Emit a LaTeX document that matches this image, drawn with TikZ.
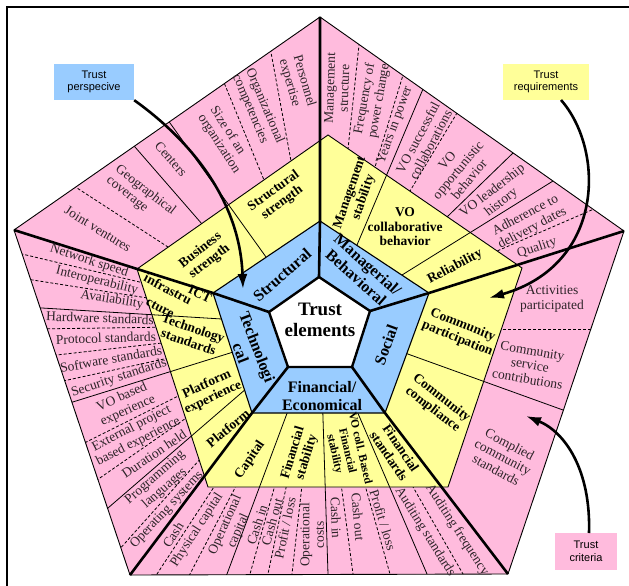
\documentclass[tikz,border=0pt]{standalone}
\usepackage{fontspec}
\setmainfont{Liberation Serif}
\newfontfamily\arialfont{Liberation Sans}
\usetikzlibrary{calc,arrows.meta}
\definecolor{pinkc}{RGB}{255,187,221}
\definecolor{yellowc}{RGB}{255,255,153}
\definecolor{bluec}{RGB}{153,204,255}
\definecolor{pinktxt}{RGB}{45,35,40}
\begin{document}
\begin{tikzpicture}[x=1pt,y=-1pt,
  pk/.style={font=\fontsize{13.5}{14.5}\selectfont, text=pinktxt, align=center, inner sep=0pt},
  pkl/.style={pk, align=left},
  yl/.style={font=\fontsize{13.5}{14.5}\selectfont\bfseries, align=center, inner sep=0pt},
  bl/.style={font=\fontsize{16}{17.5}\selectfont\bfseries, align=center, inner sep=0pt},
  sep/.style={line width=0.8pt},
  sepd/.style={line width=0.8pt, dash pattern=on 3pt off 2pt},
  spoke/.style={line width=2.6pt, line join=round},
  outl/.style={line width=0.9pt, line join=miter},
  callout/.style={font=\arialfont\fontsize{11}{12.5}\selectfont, align=center, minimum width=80pt, minimum height=36pt, inner sep=0pt},
  arr/.style={line width=2.6pt, -{Latex[length=15pt,width=10pt]}},
]
\useasboundingbox (0,0) rectangle (629,586);
\fill[white] (0,0) rectangle (629,586);
% pentagon corners
\coordinate (OT) at (320,17);  \coordinate (OL) at (14,230);  \coordinate (OBL) at (130,575);
\coordinate (OBR) at (508,574); \coordinate (OR) at (624,231);
\coordinate (YT) at (328,135); \coordinate (YL) at (137,269); \coordinate (YBL) at (208,487);
\coordinate (YBR) at (448,487); \coordinate (YR) at (522,268);
\coordinate (BT) at (320,221); \coordinate (BL) at (213,293); \coordinate (BBL) at (252,413);
\coordinate (BBR) at (385,413); \coordinate (BR) at (429,293);
\coordinate (WT) at (319,277); \coordinate (WL) at (269,312); \coordinate (WBL) at (288,367);
\coordinate (WBR) at (352,367); \coordinate (WR) at (370,311);
\coordinate (C) at (320,325);

% pink band
\fill[pinkc] (OT)--(OR)--(OBR)--(OBL)--(OL)--cycle;
\begin{scope}
\clip (OT)--(OR)--(OBR)--(OBL)--(OL)--cycle;
% sector A (pink only)
\draw[sepd] ($(77,188)!-0.5!(168,247)$) -- ($(77,188)!1.4!(168,247)$);
\draw[sep]  ($(135,147)!-0.5!(202,224)$) -- ($(135,147)!1.4!(202,224)$);
\draw[sepd] ($(225,85)!-0.5!(264,180)$) -- ($(225,85)!1.4!(264,180)$);
\draw[sepd] ($(270,47)!-0.5!(291,161)$) -- ($(270,47)!1.4!(291,161)$);
% sector B (pink only)
\draw[sepd] ($(359,45)!-0.5!(348,149)$) -- ($(359,45)!1.4!(348,149)$);
\draw[sepd] ($(403,75)!-0.5!(375,167)$) -- ($(403,75)!1.4!(375,167)$);
\draw[sepd] ($(457,113)!-0.5!(410,191)$) -- ($(457,113)!1.4!(410,191)$);
\draw[sep]  ($(513,153)!-0.5!(447,217)$) -- ($(513,153)!1.4!(447,217)$);
\draw[sepd] ($(594,209)!-0.5!(497,251)$) -- ($(594,209)!1.4!(497,251)$);
% sector C (pink only)
\draw[sepd] ($(591,329)!-0.5!(501,329)$) -- ($(591,329)!1.4!(501,329)$);
% sector D (pink only)
\foreach \xx in {157,190,250,268,292,353,390,463}
  \draw[sepd] ($(C)!70pt!(\xx,574)$) -- ($(C)!1.5!(\xx,574)$);
% sector E (pink only)
\foreach \ang in {166.6,171.1,180.8,186.5,192.3,206.6,214.8,228.2}
  \draw[sepd] ($(C)+(-\ang:70)$) -- ($(C)+(-\ang:420)$);
\end{scope}

% yellow band
\fill[yellowc] (YT)--(YR)--(YBR)--(YBL)--(YL)--cycle;
\begin{scope}
\clip (OT)--(OR)--(OBR)--(OBL)--(OL)--cycle;
\draw[sep] ($(170,123)!-0.5!(266,257)$) -- ($(170,123)!1.15!(266,257)$);
\draw[sep] ($(423,89)!-0.5!(357,245)$) -- ($(423,89)!1.15!(357,245)$);
\draw[sep] ($(553,181)!-0.5!(402,275)$) -- ($(553,181)!1.15!(402,275)$);
\draw[sep] ($(563,410)!-0.5!(405,353)$) -- ($(563,410)!1.1!(405,353)$);
\foreach \xx in {227,328,427}
  \draw[sep] ($(C)!70pt!(\xx,574)$) -- ($(C)!1.5!(\xx,574)$);
\foreach \ang in {176.5,197.3,220.8}
  \draw[sep] ($(C)+(-\ang:70)$) -- ($(C)+(-\ang:420)$);
\end{scope}

% blue and white
\fill[bluec] (BT)--(BR)--(BBR)--(BBL)--(BL)--cycle;
\fill[white] (WT)--(WR)--(WBR)--(WBL)--(WL)--cycle;

% outlines
\draw[outl] (OT)--(OR)--(OBR)--(OBL)--(OL)--cycle;
\draw[outl] (YT)--(YR)--(YBR)--(YBL)--(YL)--cycle;
\draw[line width=1.1pt] (BT)--(BR)--(BBR)--(BBL)--(BL)--cycle;
% spokes
\draw[spoke] (OT)--(BT)--(WT);
\draw[spoke] (OL)--(BL)--(WL);
\draw[spoke] (OR)--(BR)--(WR);
\draw[spoke] (OBL)--(BBL)--(WBL);
\draw[spoke] (OBR)--(BBR)--(WBR);
\draw[line width=2.4pt, line join=miter] (WT)--(WR)--(WBR)--(WBL)--(WL)--cycle;

% ---------- pink labels ----------
% sector A
\node[pk, rotate=-32] (jv) at (98,229) {Joint ventures};
\node[pkl, rotate=-38] (geo) at (141,196) {Geographical\\coverage};
\node[pk, rotate=-49] (cen) at (171,159) {Centers};
\node[pkl, rotate=-57] (size) at (225,140) {Size of an\\organization};
\node[pkl, rotate=-67] (orgc) at (258,109) {Organizational\\competencies};
\node[pkl, rotate=-74] (pers) at (297,83) {Personnel\\expertise};
% sector B
\node[pk, rotate=88] (mstr) at (337,88) {Management\\structure};
\node[pk, rotate=80] (freq) at (372,100) {Frequency of\\power change};
\node[pk, rotate=70] (yip) at (395,125) {Years in power};
\node[pk, rotate=62] (vosc) at (424,141) {VO successful\\collaborations};
\node[pk, rotate=50] (voop) at (458,170) {VO\\opportunistic\\behavior};
\node[pk, rotate=38] (vold) at (497,197) {VO leadership\\history};
\node[pk, rotate=28] (adh) at (529,222) {Adherence to\\delivery dates};
\node[pk, rotate=18] (qual) at (537,248) {Quality};
% sector C
\node[pk] (act) at (552,299) {Activities\\participated};
\node[pk, rotate=-10] (csc) at (530,365) {Community\\service\\contributions};
\node[pk, rotate=-28] (ccs) at (503,457) {Complied\\community\\standards};
% sector D
\node[pk, rotate=57] (cash1) at (173,535) {Cash};
\node[pk, rotate=57] (phys) at (197,530) {Physical capital};
\node[pk, rotate=66] (opcap) at (232,528) {Operational\\capital};
\node[pk, rotate=72] (cin1) at (257,525) {Cash in};
\node[pk, rotate=74] (cout1) at (272,522) {Cash out};
\node[pk, rotate=78] (pl1) at (285,528) {Profit / loss};
\node[pk, rotate=90] (opcost) at (312,535) {Operational\\costs};
\node[pk, rotate=-88] (cin2) at (336,518) {Cash in};
\node[pk, rotate=-85] (cout2) at (358,517) {Cash out};
\node[pk, rotate=-73] (pl2) at (383,520) {Profit / loss};
\node[pk, rotate=-58] (audst) at (425,532) {Auditing standards};
\node[pk, rotate=-57] (audfr) at (457,530) {Auditing frequency};
% sector E
\node[pk, rotate=-18] (net) at (89,261) {Network speed};
\node[pk, rotate=-14] (intop) at (97,281) {Interoperability};
\node[pk, rotate=-9] (avail) at (112,300) {Availability};
\node[pk, rotate=-2] (hw) at (100,318) {Hardware standards};
\node[pk, rotate=2] (proto) at (106,338) {Protocol standards};
\node[pk, rotate=10] (sw) at (111,359) {Software standards};
\node[pk, rotate=18] (sec) at (119,378) {Security standards};
\node[pk, rotate=24] (vobe) at (125,404) {VO based\\experience};
\node[pk, rotate=27] (ext) at (135,435) {External project\\based experience};
\node[pk, rotate=34] (dur) at (154,454) {Duration held};
\node[pk, rotate=41] (prog) at (160,483) {Programming\\languages};
\node[pk, rotate=47] (opsys) at (167,510) {Operating systems};

% ---------- yellow labels ----------
\node[yl, rotate=38] (bus) at (205,256) {Business\\strength};
\node[yl, rotate=36] (strs) at (278,197) {Structural\\strength};
\node[yl, rotate=71] (mstab) at (357,195) {Management\\stability};
\node[yl] (vocb) at (405,227) {VO\\collaborative\\behavior};
\node[yl, rotate=28] (rel) at (455,267) {Reliability};
\node[yl, rotate=-22] (cpart) at (460,332) {Community\\participation};
\node[yl, rotate=-38] (ccomp) at (437,404) {Community\\compliance};
\node[yl, rotate=-56] (fstd) at (395,452) {Financial\\standards};
\node[yl, font=\fontsize{11.5}{13}\selectfont\bfseries, rotate=-77] (vocoll) at (347,451) {VO coll. Based\\Financial\\stability};
\node[yl, rotate=73] (fstab) at (300,455) {Financial\\stability};
\node[yl, rotate=56] (capt) at (250,460) {Capital};
\node[yl, rotate=40] (plat) at (228,428) {Platform};
\node[yl, rotate=25] (platexp) at (210,391) {Platform\\experience};
\node[yl, rotate=-19] (tech) at (191,335) {Technology\\standards};
\node[yl, rotate=-25] (ict) at (200,294) {ICT};
\node[yl, rotate=-28] (infra) at (168,289) {infrastru};
\node[yl, rotate=-28] (cture) at (160,308) {cture};

% ---------- blue labels ----------
\node[bl, rotate=41] (struc) at (282,275) {Structural};
\node[bl, rotate=-41.5] (manb) at (362,271) {Managerial/\\Behavioral};
\node[bl, rotate=70] (soc) at (386,345) {Social};
\node[bl] (fin) at (322,396) {Financial/\\Economical};
\node[bl, rotate=-69] (techn) at (249,350) {Technologi\\cal};
\node[font=\fontsize{19}{21}\selectfont\bfseries, align=center, inner sep=0pt] (te) at (320,320) {Trust\\elements};

% ---------- callouts ----------
\node[callout, fill=bluec] (persp) at (94,82) {Trust\\perspecive};
\node[callout, fill=yellowc, minimum width=86pt] (req) at (546,82) {Trust\\requirements};
\node[callout, fill=pinkc, minimum width=62pt, minimum height=37pt] (crit) at (586,551.5) {Trust\\criteria};
\coordinate (tipP) at (243,289);
\coordinate (reqs) at (561,100);
\coordinate (tipR) at (489,298);
\coordinate (crs) at (589,533);
\coordinate (tipC) at (526,416);
\draw[arr] (persp.south east) .. controls (190,140) and (240,200) .. (tipP);
\draw[arr] (reqs) .. controls (605,150) and (605,265) .. (tipR);
\draw[arr] (crs) .. controls (591,470) and (565,432) .. (tipC);

% frame
\draw[line width=2.4pt] (7,600) -- (7,7) -- (640,7);
\end{tikzpicture}
\end{document}
